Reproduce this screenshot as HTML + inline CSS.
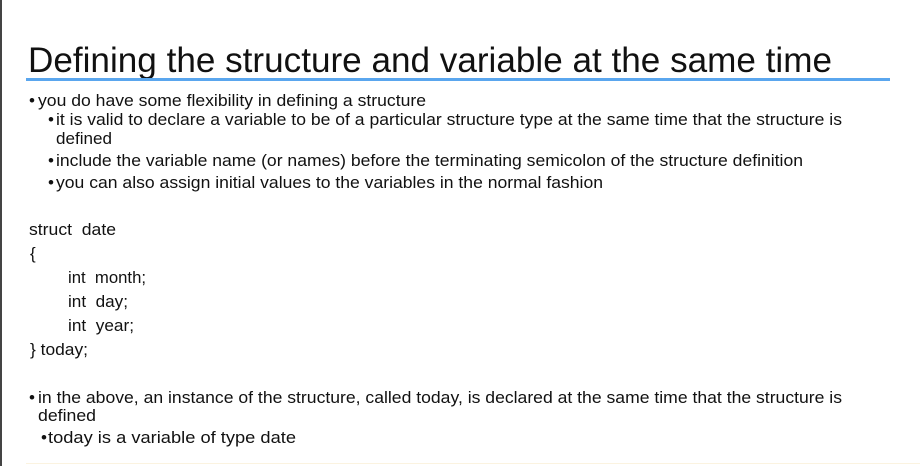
<!DOCTYPE html>
<html><head><style>
html,body{margin:0;padding:0;background:#fff;}
svg{display:block}
text{font-family:"Liberation Sans",Arial,sans-serif;fill:#111;}
</style></head><body>
<svg width="920" height="466" viewBox="0 0 920 466">
<rect x="0" y="0" width="2" height="466" fill="#444"/>
<text x="28" y="72" font-size="35" textLength="804" lengthAdjust="spacingAndGlyphs">Defining the structure and variable at the same time</text>
<rect x="26" y="78" width="864" height="3" fill="#5aa6ee"/>
<g font-size="17">
<text x="29" y="106">•</text><text x="38" y="106" textLength="388" lengthAdjust="spacingAndGlyphs">you do have some flexibility in defining a structure</text>
<text x="48" y="125">•</text><text x="56" y="125" textLength="786" lengthAdjust="spacingAndGlyphs">it is valid to declare a variable to be of a particular structure type at the same time that the structure is</text>
<text x="56" y="144" textLength="56" lengthAdjust="spacingAndGlyphs">defined</text>
<text x="48" y="166">•</text><text x="56" y="166" textLength="747" lengthAdjust="spacingAndGlyphs">include the variable name (or names) before the terminating semicolon of the structure definition</text>
<text x="48" y="188">•</text><text x="56" y="188" textLength="547" lengthAdjust="spacingAndGlyphs">you can also assign initial values to the variables in the normal fashion</text>
<text x="29" y="235" textLength="87" lengthAdjust="spacingAndGlyphs">struct&#160; date</text>
<text x="30" y="259">{</text>
<text x="68" y="283" textLength="78" lengthAdjust="spacingAndGlyphs">int&#160; month;</text>
<text x="68" y="307" textLength="60" lengthAdjust="spacingAndGlyphs">int&#160; day;</text>
<text x="68" y="331" textLength="66" lengthAdjust="spacingAndGlyphs">int&#160; year;</text>
<text x="30" y="355" textLength="58" lengthAdjust="spacingAndGlyphs">} today;</text>
<text x="29" y="403">•</text><text x="38" y="403" textLength="804" lengthAdjust="spacingAndGlyphs">in the above, an instance of the structure, called today, is declared at the same time that the structure is</text>
<text x="38" y="421" textLength="58" lengthAdjust="spacingAndGlyphs">defined</text>
<text x="41" y="443">•</text><text x="48" y="443" textLength="248" lengthAdjust="spacingAndGlyphs">today is a variable of type date</text>
</g>
<rect x="26" y="463" width="894" height="1" fill="#fbf3e0"/>
</svg>
</body></html>
